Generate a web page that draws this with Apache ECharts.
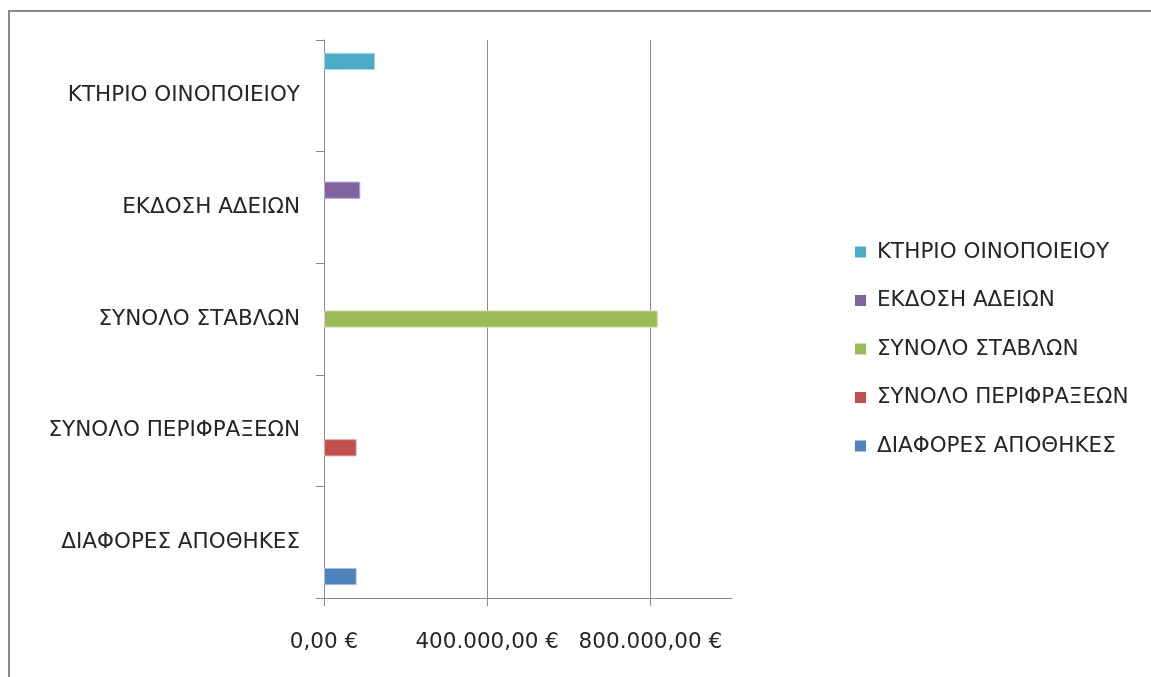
<!DOCTYPE html>
<html>
<head>
<meta charset="utf-8">
<script src="https://cdn.jsdelivr.net/npm/echarts@6/dist/echarts.min.js"></script>
<style>html,body{margin:0;padding:0;background:#fff;}#c{width:1151px;height:677px;}</style>
</head>
<body>
<div id="c"></div>
<script>
// Categories, bottom to top
var categories = ['ΔΙΑΦΟΡΕΣ ΑΠΟΘΗΚΕΣ', 'ΣΥΝΟΛΟ ΠΕΡΙΦΡΑΞΕΩΝ', 'ΣΥΝΟΛΟ ΣΤΑΒΛΩΝ', 'ΕΚΔΟΣΗ ΑΔΕΙΩΝ', 'ΚΤΗΡΙΟ ΟΙΝΟΠΟΙΕΙΟΥ'];
// Series names (legend order, top to bottom)
var seriesNames = ['ΚΤΗΡΙΟ ΟΙΝΟΠΟΙΕΙΟΥ', 'ΕΚΔΟΣΗ ΑΔΕΙΩΝ', 'ΣΥΝΟΛΟ ΣΤΑΒΛΩΝ', 'ΣΥΝΟΛΟ ΠΕΡΙΦΡΑΞΕΩΝ', 'ΔΙΑΦΟΡΕΣ ΑΠΟΘΗΚΕΣ'];
// Values per series, aligned with categories
var ktirioValues    = [null, null, null, null, 125000];
var ekdosiValues    = [null, null, null, 89000, null];
var stavlonValues   = [null, null, 818000, null, null];
var perifraxValues  = [null, 80000, null, null, null];
var diaforesValues  = [80000, null, null, null, null];
var seriesValues = [ktirioValues, ekdosiValues, stavlonValues, perifraxValues, diaforesValues];
var colors = ['#4BACC6', '#8064A2', '#9BBB59', '#C0504D', '#4F81BD'];
var borderColors = ['#a5d5e2', '#b9a8cc', '#c9dca9', '#dfa5a3', '#a4bfdd'];
var xTicks = [0, 400000, 800000];

function fmtEuro(v) {
  var s = Math.round(v).toString().replace(/\B(?=(\d{3})+(?!\d))/g, '.');
  return s + ',00 €';
}

var font = 'DejaVu Sans';
var fs = 21.5;
var axisColor = '#8c8c8c';

var chart = echarts.init(document.getElementById('c'), null, {renderer: 'canvas'});
chart.setOption({
  animation: false,
  backgroundColor: '#ffffff',
  color: colors,
  graphic: [{
    type: 'rect', silent: true, z: 100,
    shape: {x: 9, y: 11, width: 1300, height: 800},
    style: {fill: 'none', stroke: '#8a8a8a', lineWidth: 2}
  }],
  grid: {left: 324, top: 40, right: 419, bottom: 79, containLabel: false},
  legend: {
    orient: 'vertical',
    left: 850, top: 236,
    itemWidth: 11, itemHeight: 11, itemGap: 26.5,
    icon: 'rect',
    data: seriesNames,
    itemStyle: {borderWidth: 0},
    textStyle: {fontFamily: font, fontSize: fs, color: '#262626', lineHeight: 20, padding: [0, 0, 0, 6]}
  },
  xAxis: {
    type: 'value', min: 0, max: 1000000, interval: 400000,
    axisLine: {show: true, lineStyle: {color: axisColor, width: 1}},
    axisTick: {show: true, length: 8, lineStyle: {color: axisColor}},
    splitLine: {show: true, showMinLine: false, showMaxLine: false, lineStyle: {color: axisColor, width: 1}},
    axisLabel: {
      showMaxLabel: false, margin: 33,
      fontFamily: font, fontSize: fs, color: '#262626',
      formatter: function (v) { return xTicks.indexOf(v) >= 0 ? fmtEuro(v) : ''; }
    }
  },
  yAxis: {
    type: 'category', data: categories,
    axisLine: {show: true, lineStyle: {color: axisColor, width: 1}},
    axisTick: {show: true, length: 8, alignWithLabel: false, lineStyle: {color: axisColor}},
    axisLabel: {margin: 24, fontFamily: font, fontSize: fs, color: '#262626'}
  },
  series: seriesNames.map(function (name, i) {
    return {
      name: name, type: 'bar',
      data: seriesValues[i],
      barGap: '0%', barCategoryGap: '23%',
      itemStyle: {color: colors[i], borderColor: borderColors[i], borderWidth: 1}
    };
  })
});
</script>
</body>
</html>
